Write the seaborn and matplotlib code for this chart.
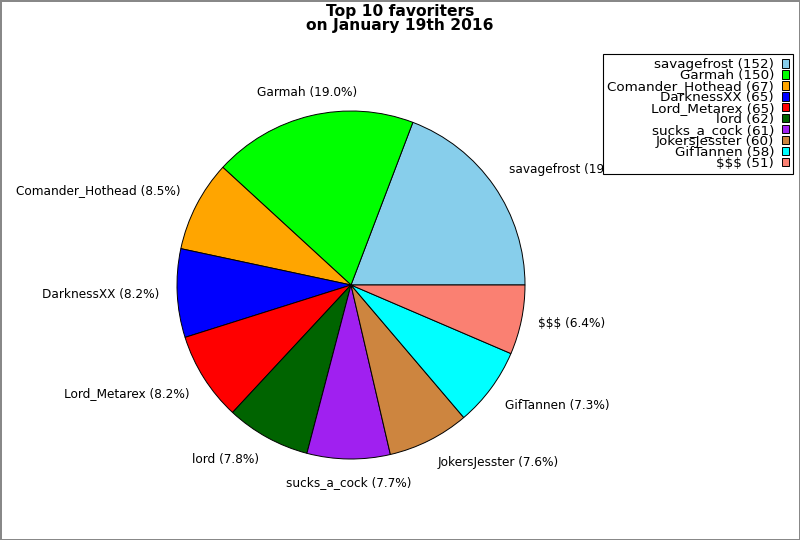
import matplotlib
matplotlib.use('Agg')
import matplotlib.pyplot as plt
import seaborn as sns
import numpy as np

# Données du graphique
joueurs = ['savagefrost', 'Garmah', 'Comander_Hothead', 'DarknessXX', 'Lord_Metarex',
           'lord', 'sucks_a_cock', 'JokersJesster', 'GifTannen', '$$$']
favoris = [152, 150, 67, 65, 65, 62, 61, 60, 58, 51]
couleurs = ['#87CEEB', '#00FF00', '#FFA500', '#0000FF', '#FF0000',
            '#006400', '#A020F0', '#CD853F', '#00FFFF', '#FA8072']
titre = 'Top 10 favoriters\non January 19th 2016'

sns.set_style('white')
plt.rcParams['font.family'] = ['DejaVu Sans']
plt.rcParams['text.color'] = 'black'

total = sum(favoris)
etiquettes = [f'{j} ({v / total * 100:.1f}%)' for j, v in zip(joueurs, favoris)]
legende = [f'{j} ({v})' for j, v in zip(joueurs, favoris)]

fig = plt.figure(figsize=(8, 5.4), dpi=100)
fig.patch.set_edgecolor('#888888')
fig.patch.set_linewidth(2)

# axe carré centré sur le camembert
cx, cy, r = 351, 285, 174
ax = fig.add_axes([(cx - r) / 800, (540 - cy - r) / 540, 2 * r / 800, 2 * r / 540])
parts, textes = ax.pie(favoris, labels=etiquettes, colors=couleurs, startangle=0,
                       counterclock=True, labeldistance=1.1,
                       wedgeprops={'edgecolor': 'black', 'linewidth': 0.7},
                       textprops={'fontsize': 8.7})
ax.set_xlim(-1, 1)
ax.set_ylim(-1, 1)

# alignement des étiquettes selon leur angle
for p, t in zip(parts, textes):
    ang = np.deg2rad((p.theta1 + p.theta2) / 2)
    c, s = np.cos(ang), np.sin(ang)
    t.set_ha('center' if abs(c) < 0.3 else ('left' if c > 0 else 'right'))
    t.set_va('bottom' if s > 0.3 else ('top' if s < -0.3 else 'center'))

fig.text(0.5, 1 - 4 / 540, titre, ha='center', va='top', fontsize=11.2,
         fontweight='bold', linespacing=0.9)

leg = fig.legend(parts, legende, loc='upper right', bbox_to_anchor=(793 / 800, 1 - 54 / 540),
                 bbox_transform=fig.transFigure, borderaxespad=0, markerfirst=False,
                 fontsize=9.7, labelspacing=-0.15, handlelength=0.5, handleheight=0.6,
                 handletextpad=0.6, borderpad=0.3, fancybox=False, framealpha=1,
                 edgecolor='black')
for t in leg.get_texts():
    t.set_ha('right')
leg.get_frame().set_linewidth(0.8)

fig.savefig('out.png', dpi=100, edgecolor=fig.get_edgecolor())
